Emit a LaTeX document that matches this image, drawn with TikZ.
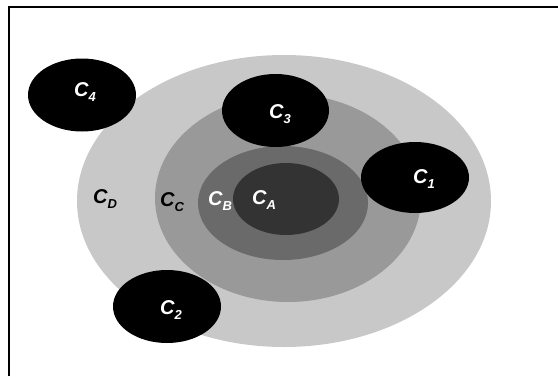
\documentclass[tikz,border=0pt]{standalone}
\usepackage{fontspec}
\setsansfont{Liberation Sans}
\newcommand{\lbl}[1]{\sffamily\bfseries\itshape\fontsize{20}{20}\selectfont C\raisebox{-0.45ex}{\fontsize{13}{13}\selectfont #1}}
\begin{document}
\begin{tikzpicture}[x=1pt,y=-1pt,
  blob/.style={fill=black, draw=none},
  lab/.style={inner sep=0pt}]
\useasboundingbox (0,0) rectangle (558,376);
\fill[white] (0,0) rectangle (558,376);
% frame
\draw[line width=2.4pt] (8.8,376) -- (8.8,6.8) -- (558,6.8);
% concentric zones
\fill[fill={rgb,255:red,200;green,200;blue,200}] (284,201) ellipse [x radius=207, y radius=146];
\fill[fill={rgb,255:red,153;green,153;blue,153}] (288,198) ellipse [x radius=133, y radius=104];
\fill[fill={rgb,255:red,106;green,106;blue,106}] (283,203) ellipse [x radius=85, y radius=57];
\fill[fill={rgb,255:red,51;green,51;blue,51}] (286,199) ellipse [x radius=53, y radius=36];
% black clusters
\fill[blob] (82,95) ellipse [x radius=54, y radius=36.5];
\fill[blob] (275.5,110.5) ellipse [x radius=53.5, y radius=36.5];
\fill[blob] (415,177.5) ellipse [x radius=54, y radius=35.5];
\fill[blob] (167,306.5) ellipse [x radius=54, y radius=36.5];
% labels
\node[lab, text=white] (c4) at (85,92) {\lbl{4}};
\node[lab, text=white] (c3) at (280,114) {\lbl{3}};
\node[lab, text=white] (c1) at (424,179) {\lbl{1}};
\node[lab, text=white] (c2) at (171,310) {\lbl{2}};
\node[lab, text=black] (cd) at (105,199) {\lbl{D}};
\node[lab, text=black] (cc) at (172,202) {\lbl{C}};
\node[lab, text=white] (cb) at (220,201) {\lbl{B}};
\node[lab, text=white] (ca) at (264,200) {\lbl{A}};
\end{tikzpicture}
\end{document}
